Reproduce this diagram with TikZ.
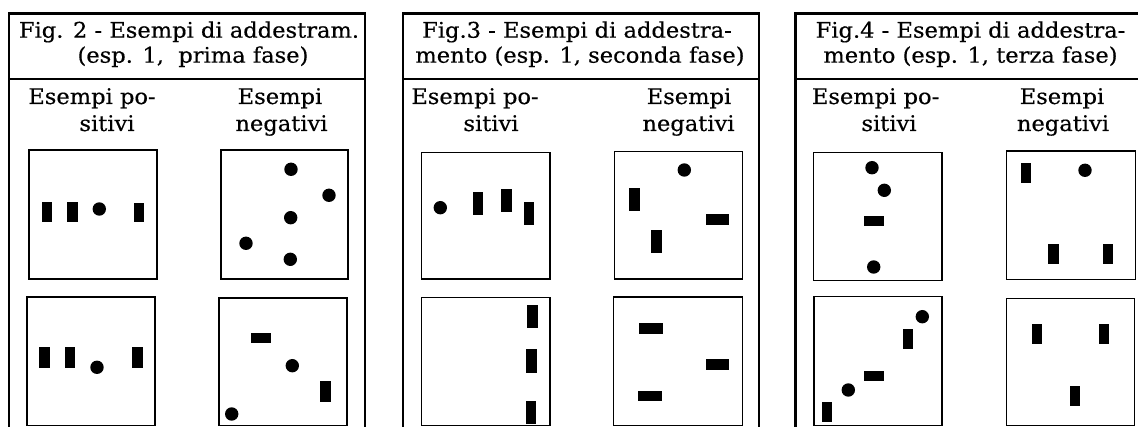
\documentclass[tikz,border=0pt]{standalone}
\usepackage{fontspec}
\setmainfont[FakeStretch=1.05,FakeBold=0.4]{DejaVu Serif}
\begin{document}
\begin{tikzpicture}[x=1pt,y=-1pt,
  frame/.style={line width=2.4pt},
  ebox/.style={line width=1.5pt},
  txt/.style={anchor=base,inner sep=0pt,font=\fontsize{21.5}{24}\selectfont},
  blob/.style={fill=black}]
\clip (0,0) rectangle (1138,427);
\fill[white] (0,0) rectangle (1138,427);
% ---------- frames ----------
\draw[frame] (8.7,440) -- (8.7,13.7) -- (365,13.7) -- (365,440);
\draw[frame] (8.7,79.3) -- (365,79.3);
\draw[frame] (402.7,440) -- (402.7,13.7) -- (759,13.7) -- (759,440);
\draw[frame] (402.7,79.3) -- (759,79.3);
\draw[frame] (795.3,440) -- (795.3,13.7) -- (1145,13.7);
\draw[frame] (795.3,79.3) -- (1145,79.3);
% ---------- texts panel 1 ----------
\node[txt] (t1a) at (189,37.7) {Fig. 2 - Esempi di addestram.};
\node[txt] (t1b) at (193,62.7) {(esp. 1,\ \ prima fase)};
\node[txt] (p1a) at (92,104) {Esempi po-};
\node[txt] (p1b) at (107,131) {sitivi};
\node[txt] (n1a) at (280,104) {Esempi};
\node[txt] (n1b) at (281.5,131) {negativi};
% ---------- texts panel 2 ----------
\node[txt] (t2a) at (577,37.7) {Fig.3 - Esempi di addestra-};
\node[txt] (t2b) at (580,62.7) {mento (esp. 1, seconda fase)};
\node[txt] (p2a) at (475,104) {Esempi po-};
\node[txt] (p2b) at (491,131) {sitivi};
\node[txt] (n2a) at (689,104) {Esempi};
\node[txt] (n2b) at (688.5,131) {negativi};
% ---------- texts panel 3 ----------
\node[txt] (t3a) at (970.5,37.7) {Fig.4 - Esempi di addestra-};
\node[txt] (t3b) at (970.5,62.7) {mento (esp. 1, terza fase)};
\node[txt] (p3a) at (875.6,104) {Esempi po-};
\node[txt] (p3b) at (889,131) {sitivi};
\node[txt] (n3a) at (1062,104) {Esempi};
\node[txt] (n3b) at (1063,131) {negativi};
% ---------- panel 1 boxes ----------
\draw[ebox] (29,150) rectangle (157,279);
\fill[blob] (41.7,202) rectangle (52.3,222);
\fill[blob] (66.7,202) rectangle (77.7,222);
\fill[blob] (99.3,209) circle (6.7);
\fill[blob] (134,202.7) rectangle (144.3,222.3);
\draw[ebox] (221,150) rectangle (348,279);
\fill[blob] (291,169.3) circle (6.7);
\fill[blob] (329,195.3) circle (6.7);
\fill[blob] (290.7,217.7) circle (6.7);
\fill[blob] (246,243.3) circle (6.7);
\fill[blob] (290.3,259.3) circle (6.7);
\draw[ebox] (27,297) rectangle (155,425.5);
\fill[blob] (39.3,347.3) rectangle (50,367.7);
\fill[blob] (65,347.3) rectangle (75.3,367.7);
\fill[blob] (97,367.3) circle (6.7);
\fill[blob] (132,347.3) rectangle (142.7,367.7);
\draw[ebox] (219,298) rectangle (347,425.5);
\fill[blob] (250.7,332.7) rectangle (271,343.3);
\fill[blob] (292.3,365.7) circle (6.7);
\fill[blob] (320.3,381.3) rectangle (331,401.7);
\fill[blob] (231.7,414) circle (6.7);
% ---------- panel 2 boxes ----------
\draw[ebox] (421.7,152.7) rectangle (550,279);
\fill[blob] (440.3,207.7) circle (6.7);
\fill[blob] (472.7,192.3) rectangle (483.3,215);
\fill[blob] (501.3,189.3) rectangle (512,212);
\fill[blob] (523.7,202) rectangle (534.3,225.3);
\draw[ebox] (614.3,151.7) rectangle (742.3,279);
\fill[blob] (684.3,170) circle (6.7);
\fill[blob] (629.3,188.3) rectangle (640.3,211.3);
\fill[blob] (706,214) rectangle (729.3,224.7);
\fill[blob] (651.3,230) rectangle (662,253.3);
\draw[ebox] (421.7,297.7) rectangle (550,425.5);
\fill[blob] (527,304.7) rectangle (537.7,328);
\fill[blob] (526.3,349.3) rectangle (537,372.7);
\fill[blob] (525.7,401) rectangle (536.3,424.3);
\draw[ebox] (613.3,297) rectangle (742.3,425.5);
\fill[blob] (639.3,323) rectangle (662.7,333.7);
\fill[blob] (706,359) rectangle (729.3,369.7);
\fill[blob] (638.3,390.7) rectangle (661.7,401.3);
% ---------- panel 3 boxes ----------
\draw[ebox] (813.3,152.3) rectangle (942,280.3);
\fill[blob] (872,167.7) circle (6.7);
\fill[blob] (884.3,190.3) circle (6.7);
\fill[blob] (864.3,216) rectangle (884.3,226);
\fill[blob] (873.7,267) circle (6.7);
\draw[ebox] (1006.7,151) rectangle (1135.3,279.7);
\fill[blob] (1020.7,163.3) rectangle (1030.7,183.3);
\fill[blob] (1085,170.3) circle (6.7);
\fill[blob] (1048.3,244.3) rectangle (1059,264);
\fill[blob] (1102.7,244.3) rectangle (1113,264);
\draw[ebox] (814,296.7) rectangle (942,425.5);
\fill[blob] (922.3,316.7) circle (6.7);
\fill[blob] (902.7,329) rectangle (913,349);
\fill[blob] (864.3,370.7) rectangle (884,380.7);
\fill[blob] (848.3,390) circle (6.7);
\fill[blob] (822,402.3) rectangle (832.3,422.3);
\draw[ebox] (1006.7,298.7) rectangle (1134.7,425.5);
\fill[blob] (1032,324.3) rectangle (1042.3,344.3);
\fill[blob] (1098.7,324.3) rectangle (1109,344.3);
\fill[blob] (1070,385.7) rectangle (1080.3,405.7);
\end{tikzpicture}
\end{document}
